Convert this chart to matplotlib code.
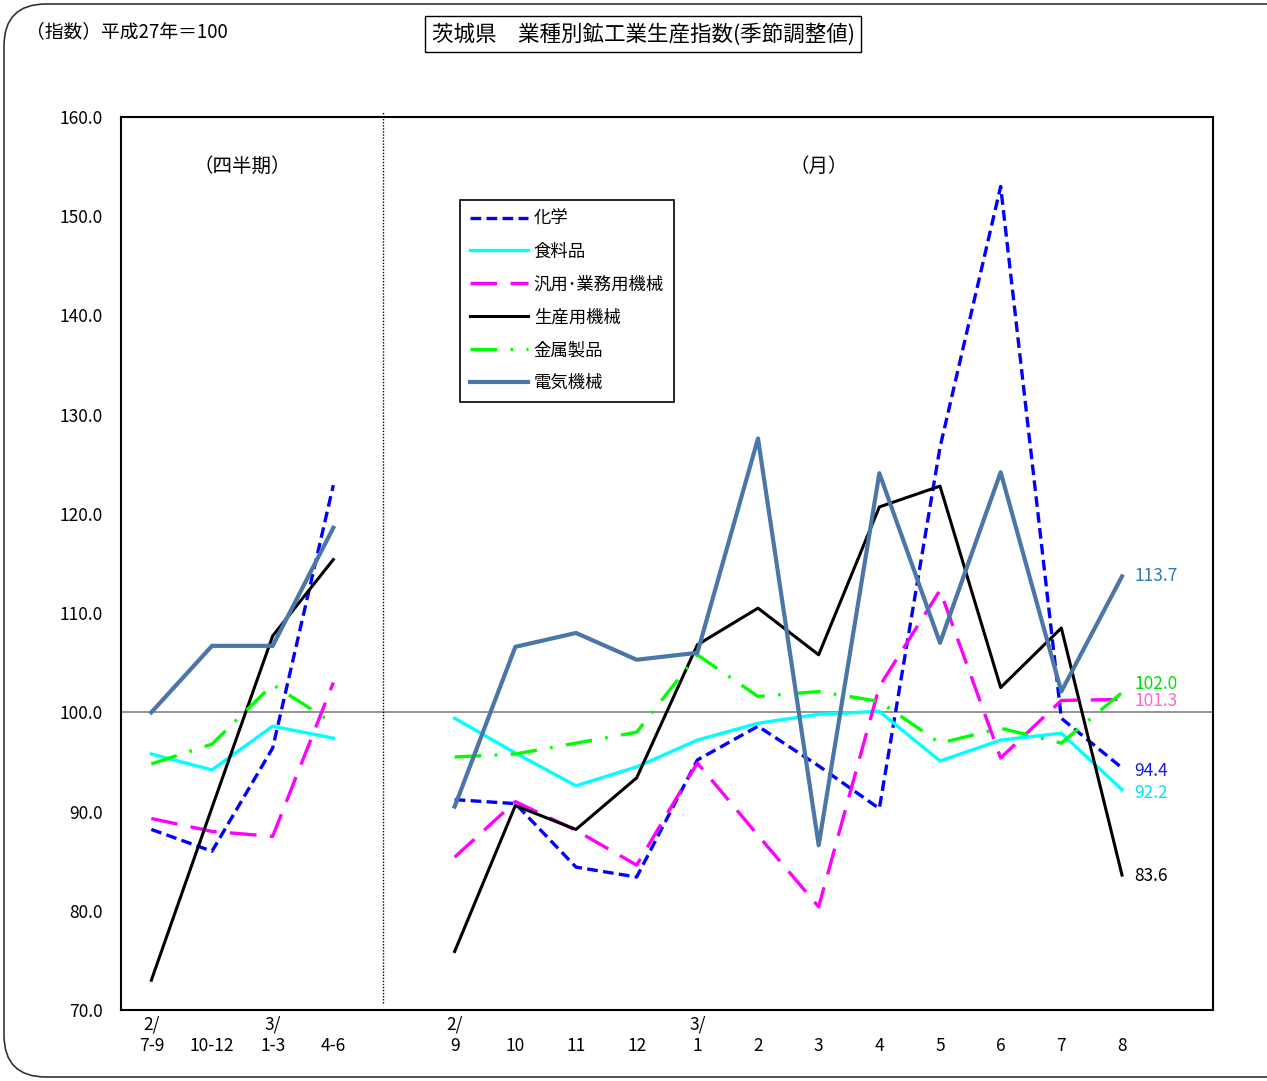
import matplotlib
matplotlib.use("Agg")
import matplotlib.pyplot as plt
from matplotlib.patches import FancyBboxPatch

plt.rcParams['font.family'] = ['Noto Sans CJK JP', 'DejaVu Sans']

# x positions: quarters 0-3, months 5-16
q_x = [0, 1, 2, 3]
m_x = list(range(5, 17))
tick_pos = q_x + m_x
tick_labels = ["2/\n7-9", "\n10-12", "3/\n1-3", "\n4-6",
               "2/\n9", "\n10", "\n11", "\n12", "3/\n1", "\n2", "\n3",
               "\n4", "\n5", "\n6", "\n7", "\n8"]

names = ["化学", "食料品", "汎用･業務用機械", "生産用機械", "金属製品", "電気機械"]

chem_q = [88.2, 86.0, 96.4, 122.9]
chem_m = [91.2, 90.8, 84.4, 83.4, 95.2, 98.6, 94.6, 90.3, 126.7, 153.0, 99.4, 94.4]
food_q = [95.8, 94.2, 98.6, 97.4]
food_m = [99.4, 95.9, 92.6, 94.5, 97.2, 98.9, 99.8, 100.1, 95.1, 97.2, 97.9, 92.2]
gen_q = [89.3, 88.0, 87.5, 103.0]
gen_m = [85.4, 91.0, 88.1, 84.6, 94.9, 87.6, 80.4, 102.6, 112.3, 95.4, 101.2, 101.3]
prod_q = [73.0, 90.4, 107.7, 115.4]
prod_m = [75.9, 90.6, 88.2, 93.4, 106.8, 110.5, 105.8, 120.7, 122.8, 102.5, 108.5, 83.6]
metal_q = [94.8, 96.8, 102.8, 98.9]
metal_m = [95.5, 95.8, 96.9, 98.0, 105.8, 101.6, 102.1, 101.1, 96.9, 98.4, 96.9, 102.0]
elec_q = [100.0, 106.7, 106.7, 118.6]
elec_m = [90.5, 106.6, 108.0, 105.3, 106.0, 127.6, 86.6, 124.1, 107.0, 124.2, 102.1, 113.7]

series = [
    (chem_q, chem_m, dict(color="#0000FF", lw=2.4, dashes=(3.2, 1.6))),
    (food_q, food_m, dict(color="#00FFFF", lw=2.4)),
    (gen_q, gen_m, dict(color="#FF00FF", lw=2.4, dashes=(8, 4))),
    (prod_q, prod_m, dict(color="black", lw=2.2)),
    (metal_q, metal_m, dict(color="#00FF00", lw=2.4, dashes=(8, 4, 0.8, 4))),
    (elec_q, elec_m, dict(color="#4A76A8", lw=3.0)),
]

end_labels = ["94.4", "92.2", "101.3", "83.6", "102.0", "113.7"]
end_colors = ["#1a1ae6", "#00E5FF", "#FF66CC", "black", "#00DD00", "#2E78B8"]
end_offsets = [-2, -2, -1, -1, 6, 0]

fig = plt.figure(figsize=(12.67, 10.81), dpi=100)

# outer rounded frame
bg = fig.add_axes([0, 0, 1, 1], zorder=0)
bg.set_xlim(0, 1267)
bg.set_ylim(1081, 0)
bg.axis("off")
bg.add_patch(FancyBboxPatch((4, 4), 1400, 1073, boxstyle="round,pad=0,rounding_size=42",
                            fc="none", ec="#333333", lw=1.2))

ax = fig.add_axes([121 / 1267, 1 - 1010 / 1081, 1092 / 1267, 893 / 1081], zorder=1)
ax.set_facecolor("none")

for (yq, ym, st), name, lab, col, off in zip(series, names, end_labels, end_colors, end_offsets):
    ax.plot(q_x, yq, solid_joinstyle="miter", **st)
    ax.plot(m_x, ym, label=name, **st)
    ax.annotate(lab, (m_x[-1], ym[-1]), xytext=(9, off), textcoords="offset points",
                color=col, fontsize=12.5, va="center", ha="left")

ax.axhline(100, color="#808080", lw=1.2, zorder=0)
ax.plot([3.82, 3.82], [70.7, 160.5], color="black", lw=1.0, ls=(0, (1, 1.2)), clip_on=False)

ax.set_xlim(-0.5, 17.5)
ax.set_ylim(70, 160)
ax.set_yticks(range(70, 161, 10))
ax.set_yticklabels([f"{v:.1f}" for v in range(70, 161, 10)])
ax.set_xticks(tick_pos)
ax.set_xticklabels(tick_labels, linespacing=1.25)
ax.tick_params(axis="y", length=0, pad=13, labelsize=12.5)
ax.tick_params(axis="x", length=0, pad=4, labelsize=12.5)
for s in ax.spines.values():
    s.set_linewidth(1.5)

ax.text(1.5, 155, "（四半期）", ha="center", va="center", fontsize=14)
ax.text(11, 155, "（月）", ha="center", va="center", fontsize=14)

leg = ax.legend(loc="upper left", bbox_to_anchor=(0.3104, 0.907), fontsize=12.5,
                handlelength=3.35, handletextpad=0.35, labelspacing=0.86,
                borderpad=0.55, borderaxespad=0, fancybox=False, framealpha=1,
                edgecolor="black")
leg.get_frame().set_linewidth(1.2)

fig.text(26 / 1267, 1 - 32 / 1081, "（指数）平成27年＝100", fontsize=13.5, va="center")
fig.text(643 / 1267, 1 - 34 / 1081, "茨城県　業種別鉱工業生産指数(季節調整値)",
         fontsize=15.5, ha="center", va="center",
         bbox=dict(boxstyle="square,pad=0.3", fc="white", ec="black", lw=1.0))

fig.savefig("out.png", dpi=100)
